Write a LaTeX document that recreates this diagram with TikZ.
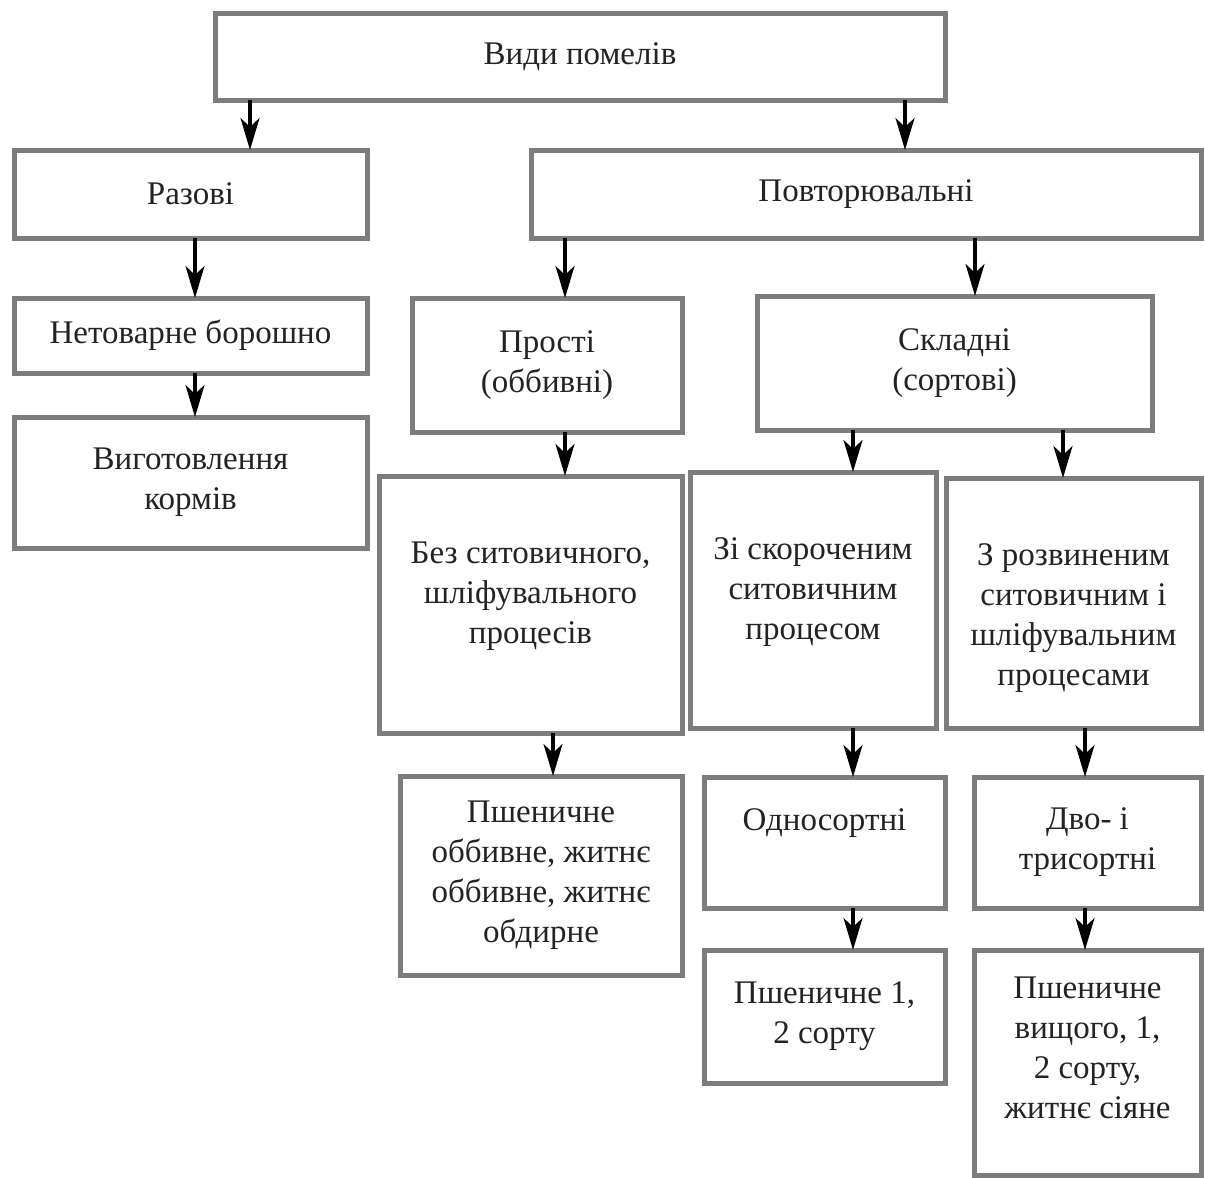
\documentclass[tikz,border=0pt]{standalone}
\usepackage{fontspec}
\setmainfont{Liberation Serif}
\usetikzlibrary{arrows.meta}
\definecolor{boxgray}{RGB}{125,125,125}
\definecolor{txtgray}{RGB}{35,35,35}
\tikzset{
  box/.style={draw=boxgray, line width=5pt, inner sep=0pt, outer sep=0pt, fill=white,
    align=center, text=txtgray, font=\fontsize{33}{40}\selectfont},
  arr/.style={line width=3.2pt, black, -{Stealth[length=32pt,width=19pt,inset=9pt]}}
}
\newcommand\mkbox[6]{%
  \pgfmathsetmacro\bcx{(#2+#4)/2}\pgfmathsetmacro\bcy{(#3+#5)/2}%
  \pgfmathsetmacro\bww{#4-#2}\pgfmathsetmacro\bhh{#5-#3}%
  \node[box,minimum width=\bww pt,minimum height=\bhh pt] (#1) at (\bcx,\bcy) {#6};}
\begin{document}
\begin{tikzpicture}[x=1pt,y=-1pt]
\useasboundingbox[fill=white] (0,0) rectangle (1205,1178);
% boxes
\mkbox{top}{215}{13}{945}{100}{Види помелів}
\mkbox{raz}{14}{150}{367}{238}{Разові}
\mkbox{pov}{531}{150}{1201}{238}{Повторювальні}
\mkbox{net}{14}{298}{367}{373}{Нетоварне борошно}
\mkbox{kor}{14}{417}{367}{548}{Виготовлення\\кормів}
\mkbox{pro}{412}{298}{682}{432}{Прості\\(оббивні)}
\mkbox{skl}{757}{296}{1152}{430}{Складні\\(сортові)}
\mkbox{bez}{379}{476}{682}{733}{Без ситовичного,\\шліфувального\\процесів\\[-16pt]\mbox{}}
\mkbox{zis}{690}{472}{936}{728}{Зі скороченим\\ситовичним\\процесом\\[-18pt]\mbox{}}
\mkbox{zro}{946}{478}{1201}{728}{З розвиненим\\ситовичним і\\шліфувальним\\процесами\\[-64pt]\mbox{}}
\mkbox{psh}{400}{776}{682}{975}{Пшеничне\\оббивне, житнє\\оббивне, житнє\\обдирне}
\mkbox{odn}{704}{777}{945}{908}{Односортні\\[6pt]\mbox{}}
\mkbox{dvo}{974}{777}{1201}{908}{Дво- і\\трисортні}
\mkbox{p12}{704}{950}{945}{1083}{Пшеничне 1,\\2 сорту}
\mkbox{pvy}{974}{950}{1201}{1175}{Пшеничне\\вищого, 1,\\2 сорту,\\житнє сіяне\\[-10pt]\mbox{}}
% arrows
\draw[arr] (top.south -| 250,0) -- (raz.north -| 250,0);
\draw[arr] (top.south -| 905,0) -- (pov.north -| 905,0);
\draw[arr] (raz.south -| 195,0) -- (net.north -| 195,0);
\draw[arr] (net.south -| 195,0) -- (kor.north -| 195,0);
\draw[arr] (pov.south -| 565,0) -- (pro.north -| 565,0);
\draw[arr] (pov.south -| 975,0) -- (skl.north -| 975,0);
\draw[arr] (pro.south -| 565,0) -- (bez.north -| 565,0);
\draw[arr] (skl.south -| 853,0) -- (zis.north -| 853,0);
\draw[arr] (skl.south -| 1063,0) -- (zro.north -| 1063,0);
\draw[arr] (bez.south -| 553,0) -- (psh.north -| 553,0);
\draw[arr] (zis.south -| 853,0) -- (odn.north -| 853,0);
\draw[arr] (zro.south -| 1085,0) -- (dvo.north -| 1085,0);
\draw[arr] (odn.south -| 853,0) -- (p12.north -| 853,0);
\draw[arr] (dvo.south -| 1085,0) -- (pvy.north -| 1085,0);
\end{tikzpicture}
\end{document}
